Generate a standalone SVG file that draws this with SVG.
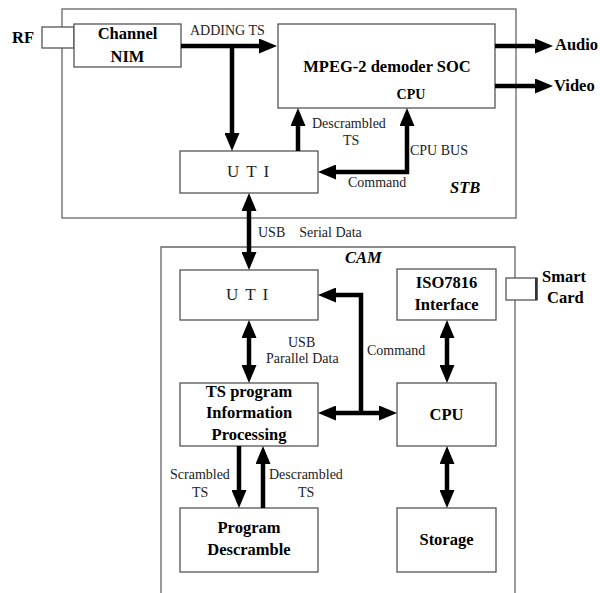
<svg xmlns="http://www.w3.org/2000/svg" width="600" height="593" viewBox="0 0 600 593">
<defs>
<marker id="ah" markerUnits="userSpaceOnUse" markerWidth="18" markerHeight="15" refX="0" refY="7.5" orient="auto-start-reverse" viewBox="0 0 18 15">
<path d="M0,0 L18,7.5 L0,15 z" fill="#000"/>
</marker>
</defs>
<g id="frames" fill="none" stroke="#666" stroke-width="1.3">
<rect id="stb" x="62" y="9" width="454" height="209"/>
<path id="cam" d="M161,593 V247 H515 V593"/>
</g>
<text font-family="Liberation Serif" font-weight="bold" font-style="italic" font-size="16.5" x="450" y="193">STB</text>
<text font-family="Liberation Serif" font-weight="bold" font-style="italic" font-size="16.5" x="345" y="263">CAM</text>

<g id="rf">
<rect fill="#fff" stroke="#555" stroke-width="1.3" x="42" y="27" width="32" height="21"/>
<text font-family="Liberation Serif" font-weight="bold" font-size="16.5" x="12" y="43">RF</text>
</g>
<g id="nim">
<rect fill="#fff" stroke="#555" stroke-width="1.3" x="74" y="24" width="107" height="43"/>
<text font-family="Liberation Serif" font-weight="bold" font-size="16.5" x="127.5" y="39" text-anchor="middle">Channel</text>
<text font-family="Liberation Serif" font-weight="bold" font-size="16.5" x="127.5" y="62" text-anchor="middle">NIM</text>
</g>
<g id="mpeg">
<rect fill="#fff" stroke="#555" stroke-width="1.3" x="278" y="24" width="217" height="84"/>
<text font-family="Liberation Serif" font-weight="bold" font-size="16.5" x="387" y="72" text-anchor="middle">MPEG-2 demoder SOC</text>
<text font-family="Liberation Serif" font-weight="bold" font-size="14" x="411" y="99" text-anchor="middle">CPU</text>
</g>
<g id="uti-stb">
<rect fill="#fff" stroke="#555" stroke-width="1.3" x="180" y="151" width="138" height="42"/>
<text font-family="Liberation Serif" font-size="17" fill="#222" letter-spacing="1.5" x="227" y="177">U T I</text>
</g>
<g id="audio"><text font-family="Liberation Serif" font-weight="bold" font-size="16.5" x="555" y="50">Audio</text></g>
<g id="video"><text font-family="Liberation Serif" font-weight="bold" font-size="16.5" x="554" y="91">Video</text></g>

<g id="uti-cam">
<rect fill="#fff" stroke="#555" stroke-width="1.3" x="180" y="270" width="138" height="50"/>
<text font-family="Liberation Serif" font-size="17" fill="#222" letter-spacing="1.5" x="226" y="300">U T I</text>
</g>
<g id="iso">
<rect fill="#fff" stroke="#555" stroke-width="1.3" x="397" y="269" width="99" height="51"/>
<text font-family="Liberation Serif" font-weight="bold" font-size="16.5" x="446.5" y="288" text-anchor="middle">ISO7816</text>
<text font-family="Liberation Serif" font-weight="bold" font-size="16.5" x="446.5" y="310" text-anchor="middle">Interface</text>
</g>
<g id="smartcard">
<rect fill="#fff" stroke="#555" stroke-width="1.3" x="506" y="278" width="31" height="22"/>
<rect x="535" y="278" width="2.5" height="22" fill="#333"/>
<text font-family="Liberation Serif" font-weight="bold" font-size="16.5" x="542" y="282">Smart</text>
<text font-family="Liberation Serif" font-weight="bold" font-size="16.5" x="547" y="303">Card</text>
</g>
<g id="tsproc">
<rect fill="#fff" stroke="#555" stroke-width="1.3" x="180" y="383" width="138" height="63"/>
<text font-family="Liberation Serif" font-weight="bold" font-size="16.5" x="249" y="397" text-anchor="middle">TS program</text>
<text font-family="Liberation Serif" font-weight="bold" font-size="16.5" x="249" y="418" text-anchor="middle">Information</text>
<text font-family="Liberation Serif" font-weight="bold" font-size="16.5" x="249" y="440" text-anchor="middle">Processing</text>
</g>
<g id="cpu">
<rect fill="#fff" stroke="#555" stroke-width="1.3" x="397" y="383" width="99" height="63"/>
<text font-family="Liberation Serif" font-weight="bold" font-size="16.5" x="446.5" y="420" text-anchor="middle">CPU</text>
</g>
<g id="descr">
<rect fill="#fff" stroke="#555" stroke-width="1.3" x="180" y="508" width="138" height="64"/>
<text font-family="Liberation Serif" font-weight="bold" font-size="16.5" x="249" y="533" text-anchor="middle">Program</text>
<text font-family="Liberation Serif" font-weight="bold" font-size="16.5" x="249" y="555" text-anchor="middle">Descramble</text>
</g>
<g id="storage">
<rect fill="#fff" stroke="#555" stroke-width="1.3" x="397" y="508" width="99" height="64"/>
<text font-family="Liberation Serif" font-weight="bold" font-size="16.5" x="446.5" y="545" text-anchor="middle">Storage</text>
</g>

<g id="connectors" fill="none" stroke="#000" stroke-width="4.5">
<line x1="181" y1="46" x2="259" y2="46" marker-end="url(#ah)"/>
<line x1="232" y1="46" x2="232" y2="133" marker-end="url(#ah)"/>
<line x1="298" y1="151" x2="298" y2="126" marker-end="url(#ah)"/>
<path d="M407,126 V172 H336" marker-start="url(#ah)" marker-end="url(#ah)"/>
<line x1="495" y1="46" x2="535" y2="46" marker-end="url(#ah)"/>
<line x1="495" y1="86" x2="535" y2="86" marker-end="url(#ah)"/>
<line x1="249" y1="211" x2="249" y2="252" marker-start="url(#ah)" marker-end="url(#ah)"/>
<line x1="249" y1="338" x2="249" y2="365" marker-start="url(#ah)" marker-end="url(#ah)"/>
<path d="M336,295 H361 V413" marker-start="url(#ah)"/>
<line x1="336" y1="413" x2="379" y2="413" marker-start="url(#ah)" marker-end="url(#ah)"/>
<line x1="447" y1="338" x2="447" y2="365" marker-start="url(#ah)" marker-end="url(#ah)"/>
<line x1="447" y1="464" x2="447" y2="490" marker-start="url(#ah)" marker-end="url(#ah)"/>
<line x1="239" y1="446" x2="239" y2="490" marker-end="url(#ah)"/>
<line x1="263" y1="508" x2="263" y2="464" marker-end="url(#ah)"/>
</g>

<g id="labels" fill="#222">
<text font-family="Liberation Serif" font-size="14" x="190" y="35">ADDING TS</text>
<text font-family="Liberation Serif" font-size="14" x="312" y="128">Descrambled</text>
<text font-family="Liberation Serif" font-size="14" x="343" y="145">TS</text>
<text font-family="Liberation Serif" font-size="14" x="410" y="155">CPU BUS</text>
<text font-family="Liberation Serif" font-size="14" x="348" y="187">Command</text>
<text font-family="Liberation Serif" font-size="14" x="258" y="237" xml:space="preserve">USB    Serial Data</text>
<text font-family="Liberation Serif" font-size="14" x="288" y="347">USB</text>
<text font-family="Liberation Serif" font-size="14" x="266" y="363">Parallel Data</text>
<text font-family="Liberation Serif" font-size="14" x="367" y="355">Command</text>
<text font-family="Liberation Serif" font-size="14" x="170" y="479">Scrambled</text>
<text font-family="Liberation Serif" font-size="14" x="192" y="497">TS</text>
<text font-family="Liberation Serif" font-size="14" x="269" y="479">Descrambled</text>
<text font-family="Liberation Serif" font-size="14" x="298" y="497">TS</text>
</g>
</svg>
